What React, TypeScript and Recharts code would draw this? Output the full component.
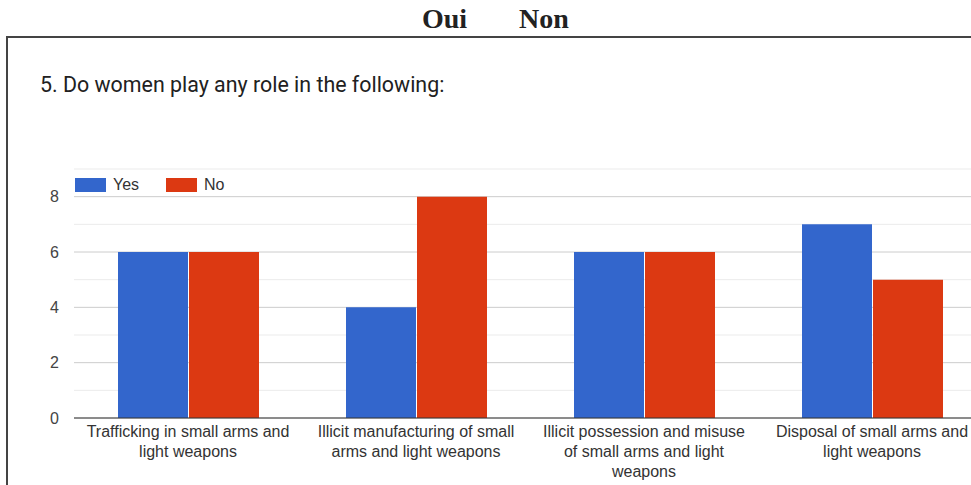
import React from 'react';
import { BarChart, Bar, XAxis, YAxis, CartesianGrid, Legend } from 'recharts';

const categories = [
  'Trafficking in small arms and light weapons',
  'Illicit manufacturing of small arms and light weapons',
  'Illicit possession and misuse of small arms and light weapons',
  'Disposal of small arms and light weapons',
];
const categoryLines = [
  ['Trafficking in small arms and', 'light weapons'],
  ['Illicit manufacturing of small', 'arms and light weapons'],
  ['Illicit possession and misuse', 'of small arms and light', 'weapons'],
  ['Disposal of small arms and', 'light weapons'],
];
const yesValues = [6, 4, 6, 7];
const noValues = [6, 8, 6, 5];
const yTicks = [0, 1, 2, 3, 4, 5, 6, 7, 8, 9];
const yLabelTicks = [0, 2, 4, 6, 8];
const seriesNames = ['Yes', 'No'];
const headerWords = ['Oui', 'Non'];
const titleText = '5. Do women play any role in the following:';

const data = categories.map((c, i) => ({ name: c, yes: yesValues[i], no: noValues[i] }));

const FONT = "'Liberation Sans', Arial, sans-serif";
const TITLE_FONT = 'Roboto, Arial, sans-serif';

const XTick = (props: any) => {
  const { x, y, index } = props;
  const lines = categoryLines[index] || [];
  return (
    <g>
      {lines.map((l: string, i: number) => (
        <text key={i} x={x} y={y + 19 + i * 20} textAnchor="middle" fontSize={16} fontFamily={FONT} fill="#333">
          {l}
        </text>
      ))}
    </g>
  );
};

const YTick = (props: any) => {
  const { x, y, payload } = props;
  if (!yLabelTicks.includes(payload.value)) return <g />;
  return (
    <text x={x} y={y} dy="0.355em" textAnchor="end" fontSize={16} fontFamily={FONT} fill="#444">
      {payload.value}
    </text>
  );
};

const gridLine = (p: any) => {
  const idx = p.index;
  const v = yTicks[idx];
  const major = yLabelTicks.includes(v);
  return (
    <line key={`g-${idx}`} x1={p.x1} y1={p.y1} x2={p.x2} y2={p.y2} stroke={major ? '#cccccc' : '#ebebeb'} strokeWidth={1} />
  );
};

const renderLegend = (props: any) => {
  const payload = [...(props.payload || [])].sort(
    (a: any, b: any) => seriesNames.indexOf(a.value) - seriesNames.indexOf(b.value)
  );
  return (
    <div style={{ display: 'flex', fontFamily: FONT, fontSize: 16, color: '#333', lineHeight: '14px' }}>
      {payload.map((e: any, i: number) => (
        <div key={i} style={{ display: 'flex', alignItems: 'center', width: 91 }}>
          <div style={{ width: 31, height: 14, background: e.color, marginRight: 7 }} />
          <span>{e.value}</span>
        </div>
      ))}
    </div>
  );
};

export default function App() {
  return (
    <div style={{ position: 'relative', width: 971, height: 485, overflow: 'hidden', background: '#fff' }}>
      <style>{`html,body{margin:0;padding:0;overflow:hidden;}`}</style>
      <div
        style={{
          position: 'absolute',
          left: 6,
          top: 36,
          width: 1100,
          height: 600,
          border: '2px solid #444',
          boxSizing: 'border-box',
        }}
      />
      <div style={{ position: 'absolute', left: 0, top: 0 }}>
        <BarChart
          width={1000}
          height={485}
          data={data}
          margin={{ top: 169, right: 14, bottom: 7, left: 14 }}
          barGap={1}
          barSize={70}
        >
          <CartesianGrid vertical={false} horizontal={gridLine} />
          <YAxis
            width={60}
            domain={[0, 9]}
            ticks={yTicks}
            interval={0}
            axisLine={false}
            tickLine={false}
            tickSize={0}
            tickMargin={15}
            tick={<YTick />}
          />
          <XAxis
            dataKey="name"
            height={60}
            interval={0}
            tickLine={false}
            tickSize={0}
            tickMargin={0}
            axisLine={{ stroke: '#333', strokeWidth: 1 }}
            tick={<XTick />}
          />
          <Legend
            layout="horizontal"
            verticalAlign="middle"
            align="center"
            content={renderLegend}
            wrapperStyle={{ position: 'absolute', top: 178, left: 75, width: 300, height: 14 }}
          />
          <Bar dataKey="yes" name={seriesNames[0]} fill="#3366cc" isAnimationActive={false} />
          <Bar dataKey="no" name={seriesNames[1]} fill="#dc3912" isAnimationActive={false} />
        </BarChart>
      </div>
      <svg width={971} height={485} style={{ position: 'absolute', left: 0, top: 0, pointerEvents: 'none' }}>
        <text x={422} y={28} fontFamily="'Liberation Serif', 'Times New Roman', serif" fontWeight="bold" fontSize={28} fill="#222">
          {headerWords[0]}
        </text>
        <text x={519} y={28} fontFamily="'Liberation Serif', 'Times New Roman', serif" fontWeight="bold" fontSize={28} fill="#222">
          {headerWords[1]}
        </text>
        <text x={40} y={92} fontFamily={TITLE_FONT} fontSize={21.4} fill="#212121">
          {titleText}
        </text>
      </svg>
    </div>
  );
}
